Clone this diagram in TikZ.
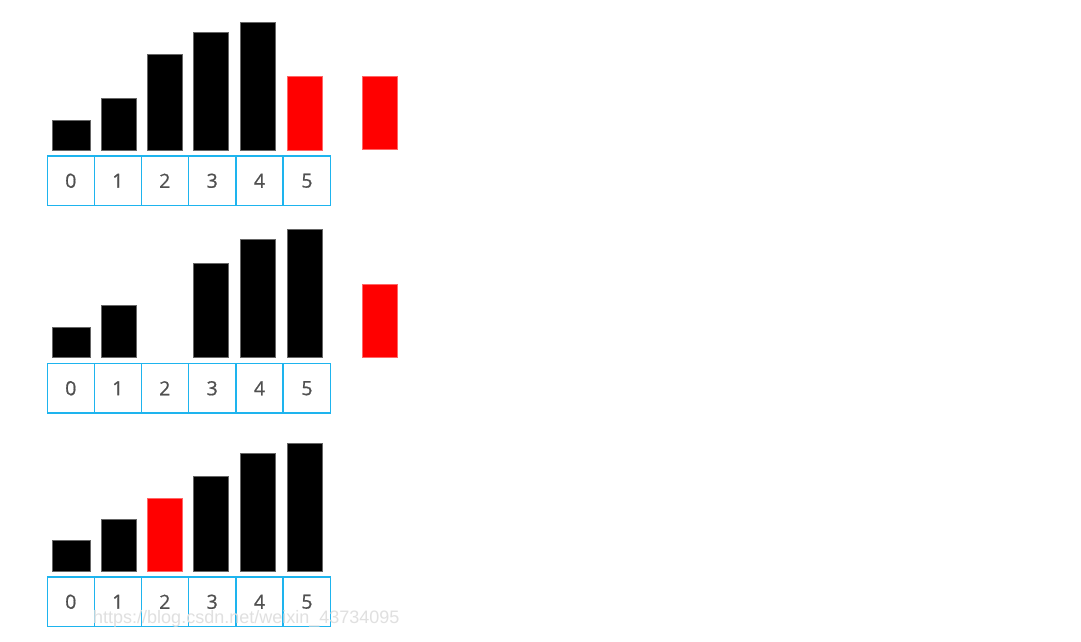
\documentclass[tikz,border=0pt]{standalone}
\usepackage{fontspec}
\setmainfont{Open Sans}
\newfontfamily\digitfont[FakeBold=0.8]{Open Sans}
\newfontfamily\wmfont{Liberation Sans}
\definecolor{gridblue}{RGB}{30,180,238}
\definecolor{digitgray}{RGB}{80,80,80}
\definecolor{barred}{RGB}{255,0,0}
\begin{document}
\begin{tikzpicture}[x=1pt,y=-1pt,
  blackbar/.style={fill=black,draw=black!60,line width=0.6pt},
  redbar/.style={fill=barred,draw=red!60,line width=0.6pt},
  cell/.style={draw=gridblue,line width=1.1pt,minimum width=47pt,minimum height=49.5pt,inner sep=0pt,outer sep=0pt,text=digitgray,font=\digitfont\fontsize{19.5}{19.5}\selectfont,anchor=north west},
  wm/.style={text=black!12,font=\wmfont\fontsize{18}{18}\selectfont}]
\useasboundingbox (0,0) rectangle (1081,641);
\fill[white] (0,0) rectangle (1081,641);
% ---------- Row 1
\foreach \i/\x in {0/47.3,1/94.3,2/141.3,3/188.7,4/236,5/283.5}
  \node[cell] (ra\i) at (\x,156) {\i};
\draw[blackbar] (52,150) rectangle (90,120);
\draw[blackbar] (101.7,150) rectangle (136.7,98);
\draw[blackbar] (147.3,150) rectangle (182.7,54);
\draw[blackbar] (193.7,150) rectangle (228.7,32);
\draw[blackbar] (240,150) rectangle (275,22);
\draw[redbar] (287,150) rectangle (322.3,76);
\draw[redbar] (362.7,149.3) rectangle (397.3,76);
% ---------- Row 2
\foreach \i/\x in {0/47.3,1/94.3,2/141.3,3/188.7,4/236,5/283.5}
  \node[cell] (rb\i) at (\x,363.5) {\i};
\draw[blackbar] (52,357.3) rectangle (90,327);
\draw[blackbar] (101.7,357.3) rectangle (136.7,305.7);
\draw[blackbar] (193.7,357.3) rectangle (228.7,263);
\draw[blackbar] (240,357.3) rectangle (275,239.3);
\draw[blackbar] (287,357.3) rectangle (322.3,229.3);
\draw[redbar] (362.7,357.3) rectangle (397.3,284.3);
% ---------- Row 3
\foreach \i/\x in {0/47.3,1/94.3,2/141.3,3/188.7,4/236,5/283.5}
  \node[cell] (rc\i) at (\x,577) {\i};
\draw[blackbar] (52,571.3) rectangle (90,540.7);
\draw[blackbar] (101.7,571.3) rectangle (136.7,519.3);
\draw[redbar] (147.3,571.3) rectangle (182.7,498);
\draw[blackbar] (193.7,571.3) rectangle (228.7,476.7);
\draw[blackbar] (240,571.3) rectangle (275,453.3);
\draw[blackbar] (287,571.3) rectangle (322.3,443);
% watermark
\node[wm,anchor=west,inner sep=0pt] (wmark) at (93,619) {https://blog.csdn.net/weixin\_43734095};
\end{tikzpicture}
\end{document}
